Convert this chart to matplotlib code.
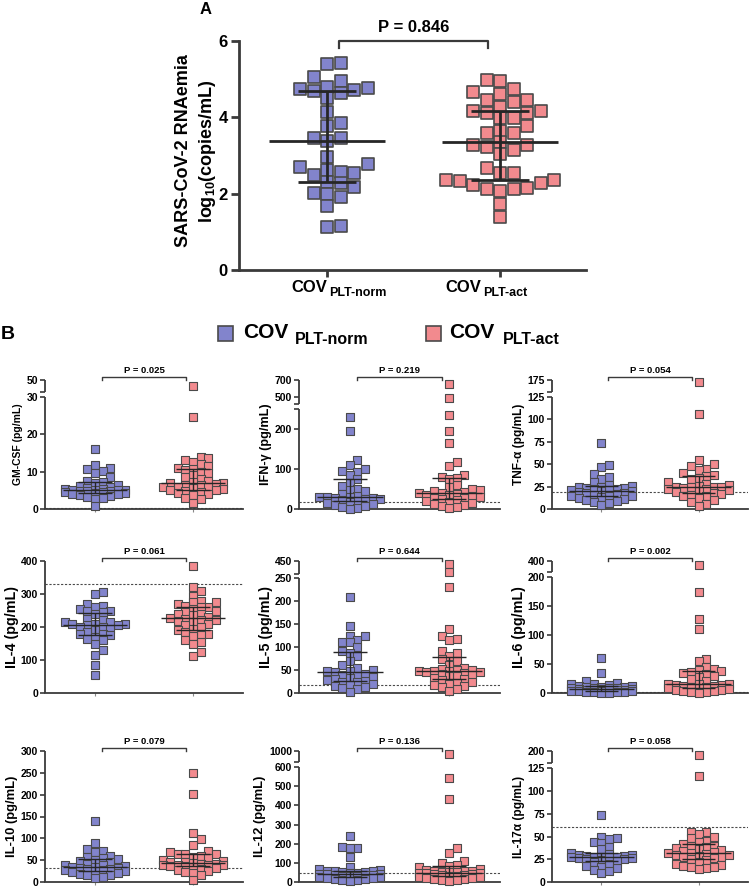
import numpy as np
import matplotlib
matplotlib.use('Agg')
import matplotlib.pyplot as plt
from matplotlib.lines import Line2D

plt.rcParams['font.family'] = ['Liberation Sans', 'DejaVu Sans']
plt.rcParams['font.weight'] = 'bold'
plt.rcParams['mathtext.fontset'] = 'custom'
plt.rcParams['mathtext.bf'] = 'Liberation Sans:bold'
plt.rcParams['mathtext.rm'] = 'Liberation Sans:bold'

BLUE = '#8284cc'
PINK = '#f28a8e'
EDGE = '#4a4a4a'
AXC = '#3a3a3a'

group_subs = ['PLT-norm', 'PLT-act']

# panel A: SARS-CoV-2 RNAemia, log10 copies/mL
rna_norm = [5.43, 5.41, 5.06, 4.95, 4.8, 4.78, 4.75, 4.71, 4.69, 4.65, 4.51, 4.14, 3.85,
            3.77, 3.46, 3.46, 3.37, 2.97, 2.77, 2.70, 2.62, 2.57, 2.53, 2.49, 2.3, 2.28,
            2.18, 2.03, 2.0, 1.92, 1.67, 1.16, 1.13]
rna_act = [4.97, 4.95, 4.75, 4.67, 4.6, 4.45, 4.45, 4.4, 4.27, 4.16, 4.16, 4.12, 4.12,
           3.97, 3.97, 3.77, 3.65, 3.6, 3.58, 3.36, 3.27, 3.27, 3.23, 3.14, 3.03, 2.66,
           2.53, 2.53, 2.35, 2.35, 2.33, 2.28, 2.24, 2.15, 2.12, 2.11, 2.08, 1.73, 1.40]
p_rna = 'P = 0.846'

# panel B: cytokines (pg/mL)
cytokines = ['GM-CSF', 'IFN-γ', 'TNF-α', 'IL-4', 'IL-5', 'IL-6', 'IL-10', 'IL-12', 'IL-17α']
p_values = ['P = 0.025', 'P = 0.219', 'P = 0.054', 'P = 0.061', 'P = 0.644',
            'P = 0.002', 'P = 0.079', 'P = 0.136', 'P = 0.058']
detect_limit = [0.2, 18, 19, 330, 17, 1, 33, 47, 60]
lower_ticks = [[0, 10, 20, 30], [0, 100, 200], [0, 25, 50, 75, 100, 125],
               [0, 100, 200, 300, 400], [0, 50, 100, 150, 200, 250],
               [0, 50, 100, 150, 200], [0, 50, 100, 150, 200, 250, 300],
               [0, 100, 200, 300, 400, 500, 600], [0, 25, 50, 75, 100, 125]]
upper_ticks = [[50], [500, 700], [175], [], [450], [400], [], [1000], [200]]
# (top of lower segment, bottom of upper segment) for broken axes
breaks = [(30, 40), (250, 420), (125, 150), None, (250, 350), (200, 300), None,
          (600, 800), (125, 150)]

norm_vals = [
    [16, 11.8, 11, 10.7, 10.2, 9.5, 8.5, 7.5, 7.2, 7, 6.5, 6.2, 6, 5.6, 5.4, 5.3, 5.2, 5.1,
     5, 5, 4.9, 4.8, 4.7, 4.6, 4.5, 4.3, 4.2, 4, 3.9, 3.7, 3.5, 3.2, 3, 2.6, 0.8],
    [230, 195, 123, 110, 100, 96, 92, 85, 75, 65, 57, 50, 47, 45, 38, 33, 30, 30, 29, 28,
     27, 25, 24, 22, 20, 18, 15, 12, 10, 8, 5, 3, 1],
    [73, 49, 47, 39, 36, 33, 30, 27, 26, 25, 24, 23, 23, 22, 22, 21, 21, 20, 20, 19, 18,
     18, 17, 16, 15, 15, 14, 13, 12, 11, 10, 9, 8, 7, 5],
    [305, 300, 270, 265, 260, 255, 250, 250, 245, 240, 225, 220, 215, 215, 210, 210, 208,
     205, 205, 200, 200, 195, 190, 185, 180, 178, 175, 170, 165, 160, 150, 130, 115, 85, 55],
    [210, 145, 125, 125, 115, 112, 110, 100, 92, 88, 80, 70, 60, 55, 50, 48, 48, 45, 42,
     40, 38, 35, 33, 30, 28, 27, 25, 23, 20, 18, 15, 12, 10, 8, 3],
    [60, 35, 20, 18, 16, 15, 14, 12, 12, 11, 10, 10, 9, 9, 8, 8, 7, 7, 7, 6, 6, 5, 5, 5,
     4, 4, 3, 3, 2, 2, 1, 1, 0.5, 0],
    [140, 90, 75, 70, 68, 60, 58, 55, 52, 50, 48, 45, 42, 40, 38, 36, 35, 35, 33, 32, 30,
     30, 28, 27, 25, 25, 22, 20, 18, 17, 15, 12, 10],
    [240, 185, 180, 175, 130, 80, 70, 65, 60, 55, 55, 50, 50, 48, 45, 42, 40, 40, 38, 35,
     35, 33, 30, 30, 28, 25, 22, 20, 18, 15, 12, 10, 5],
    [74, 50, 48, 47, 44, 43, 38, 36, 32, 31, 30, 30, 29, 29, 28, 28, 28, 27, 27, 26, 26,
     25, 25, 24, 23, 22, 20, 18, 17, 15, 13, 12, 10],
]
act_vals = [
    [45, 24.5, 14, 13.5, 13, 12.5, 12, 11.5, 11, 10.8, 10.5, 10, 9.5, 9, 8.5, 8, 7.5, 7.2,
     7, 7, 6.8, 6.5, 6.3, 6, 6, 5.8, 5.5, 5.3, 5, 5, 4.8, 4.5, 4.2, 4, 3.8, 3, 2.8, 1.7],
    [650, 495, 235, 195, 165, 118, 108, 85, 80, 78, 75, 60, 55, 50, 47, 45, 42, 40, 40, 38,
     36, 35, 33, 30, 28, 27, 25, 22, 20, 18, 15, 12, 10, 8, 5, 2],
    [170, 106, 55, 50, 48, 45, 43, 40, 38, 37, 35, 33, 30, 28, 27, 26, 25, 25, 24, 24, 23,
     22, 22, 21, 20, 19, 18, 17, 16, 15, 14, 12, 10, 8, 6, 3],
    [385, 322, 310, 295, 280, 275, 275, 270, 265, 262, 260, 255, 248, 245, 240, 238, 235,
     230, 228, 225, 222, 220, 218, 215, 210, 205, 200, 195, 190, 185, 178, 175, 172, 160,
     155, 150, 125, 112],
    [430, 365, 230, 140, 125, 118, 115, 92, 88, 80, 75, 70, 62, 55, 52, 50, 50, 48, 48, 47,
     46, 45, 44, 42, 40, 38, 36, 33, 30, 28, 25, 22, 20, 18, 15, 12, 8, 5],
    [365, 175, 128, 110, 58, 55, 45, 42, 40, 38, 37, 35, 33, 30, 28, 25, 20, 16, 15, 15,
     14, 13, 12, 12, 11, 10, 9, 8, 7, 6, 5, 4, 3, 2, 1, 0.5],
    [250, 202, 112, 98, 85, 70, 68, 65, 65, 63, 60, 58, 55, 50, 48, 45, 45, 43, 42, 42, 40,
     40, 38, 38, 37, 36, 35, 33, 30, 28, 25, 22, 20, 15, 5],
    [950, 545, 435, 180, 150, 110, 100, 90, 85, 80, 70, 65, 60, 58, 55, 52, 50, 50, 48, 47,
     45, 43, 40, 38, 35, 33, 30, 28, 25, 22, 20, 18, 15, 12, 8, 5],
    [183, 116, 55, 55, 53, 50, 48, 45, 44, 42, 40, 40, 38, 37, 36, 35, 34, 33, 32, 32, 31,
     30, 30, 29, 28, 27, 26, 25, 24, 22, 20, 19, 18, 17, 16, 15, 14],
]

# layout (pixels of the 750x890 figure)
W, H = 750, 890
break_frac = [(0.871, 0.91), (0.773, 0.812), (0.870, 0.909), None, (0.87, 0.90),
              (0.877, 0.913), None, (0.877, 0.915), (0.868, 0.908)]
cols = [(45, 243), (299, 500), (552, 748)]
rows = [(380, 509), (561, 693), (751, 882)]

fig = plt.figure(figsize=(W / 100, H / 100), dpi=100)


def add_ax(x0, x1, y0, y1):
    return fig.add_axes([x0 / W, 1 - y1 / H, (x1 - x0) / W, (y1 - y0) / H])


def swarm(ax, center, vals, step, ythr, kmax):
    # column scatter: put each point in the nearest free column, at most kmax columns out
    vals = np.asarray(vals, float)
    pts = ax.transData.transform(np.column_stack([np.full(len(vals), center), vals]))
    ys = pts[:, 1]
    ppu = ax.transData.transform((center + 1, 1))[0] - ax.transData.transform((center, 1))[0]
    cands = [0]
    for k in range(1, kmax + 1):
        cands += [k, -k]
    off = np.zeros(len(vals))
    placed = []
    for i in np.argsort(ys):
        best, best_gap = 0, -1
        for c in cands:
            dx = c * step
            gaps = [abs(ys[i] - b) for a, b in placed if abs(dx - a) < step * 0.99]
            gap = min(gaps) if gaps else 1e9
            if gap >= ythr:
                best = dx
                break
            if gap > best_gap:
                best, best_gap = dx, gap
        off[i] = best
        placed.append((best, ys[i]))
    return center + off / ppu


def median_iqr(ax, center, vals, half, cap, lw):
    q1, med, q3 = np.percentile(vals, [25, 50, 75])
    kw = dict(color='#262626', lw=lw, zorder=5, solid_capstyle='butt')
    ax.plot([center - half, center + half], [med, med], **kw)
    ax.plot([center, center], [q1, q3], **kw)
    ax.plot([center - cap, center + cap], [q1, q1], **kw)
    ax.plot([center - cap, center + cap], [q3, q3], **kw)


def bracket(ax, y0, drop, text, fs, ty, lw):
    tr = ax.get_xaxis_transform()
    ax.plot([0.07, 0.07, 0.93, 0.93], [y0 - drop, y0, y0, y0 - drop], transform=tr,
            color=AXC, lw=lw, clip_on=False)
    ax.text(0.5, ty, text, transform=tr, ha='center', va='center', fontsize=fs)


# ---------------- panel A ----------------
axA = add_ax(239, 586, 41, 270)
axA.set_xlim(-0.509, 1.497)
axA.set_ylim(0, 6)
for s in ['top', 'right']:
    axA.spines[s].set_visible(False)
for s in ['left', 'bottom']:
    axA.spines[s].set_color(AXC)
    axA.spines[s].set_linewidth(2)
axA.set_yticks([0, 2, 4, 6])
axA.set_xticks([0, 1])
axA.set_xticklabels(['', ''])
axA.tick_params(axis='y', length=6, width=2, color=AXC, labelsize=12, pad=2)
axA.tick_params(axis='x', length=5, width=2, color=AXC)

for i, (vals, col) in enumerate([(rna_norm, BLUE), (rna_act, PINK)]):
    xs = swarm(axA, i, vals, 13.5, 11, 4)
    axA.scatter(xs, vals, s=9.2 ** 2, marker='s', facecolor=col, edgecolor=EDGE,
                linewidths=1.2, zorder=3, clip_on=False)
    median_iqr(axA, i, vals, 0.335, 0.17, 2)

bracket(axA, 1.0, 0.03, p_rna, 12, 1.06, 1.6)

xlab_shift = [0, -19]
for i, sub in enumerate(group_subs):
    axA.annotate('COV', xy=(i, 0), xycoords=axA.get_xaxis_transform(),
                 xytext=(xlab_shift[i] * 0.72, -17 * 0.72), textcoords='offset points',
                 ha='right', va='center', fontsize=12)
    axA.annotate(sub, xy=(i, 0), xycoords=axA.get_xaxis_transform(),
                 xytext=((xlab_shift[i] + 2) * 0.72, -23 * 0.72), textcoords='offset points',
                 ha='left', va='center', fontsize=9)

fig.text(183 / W, 1 - 151 / H, 'SARS-CoV-2 RNAemia', rotation=90, ha='center',
         va='center', fontsize=13)
fig.text(207 / W, 1 - 151 / H, r'log$_{\mathbf{10}}$(copies/mL)', rotation=90,
         ha='center', va='center', fontsize=13)
fig.text(206 / W, 1 - 10 / H, 'A', ha='center', va='center', fontsize=12)

# ---------------- legend / B ----------------
fig.text(1 / W, 1 - 335 / H, 'B', ha='left', va='center', fontsize=14)
leg = [(225, 243, 295, BLUE, group_subs[0]), (433, 449, 503, PINK, group_subs[1])]
for sx, tx, ux, col, sub in leg:
    fig.add_artist(Line2D([sx / W], [1 - 333 / H], marker='s', markersize=10.8,
                          markerfacecolor=col, markeredgecolor=EDGE, markeredgewidth=1.2,
                          transform=fig.transFigure))
    fig.text(tx / W, 1 - 332 / H, 'COV', ha='left', va='center', fontsize=15)
    fig.text(ux / W, 1 - 340 / H, sub, ha='left', va='center', fontsize=11.5)

# ---------------- cytokine panels ----------------
renderer = fig.canvas.get_renderer()
for n, name in enumerate(cytokines):
    r, c = divmod(n, 3)
    ax = add_ax(cols[c][0], cols[c][1], rows[r][0], rows[r][1])
    top = (upper_ticks[n] or lower_ticks[n])[-1]
    ax.set_xlim(-0.51, 1.51)
    for s in ['top', 'right', 'left']:
        ax.spines[s].set_visible(False)
    ax.spines['bottom'].set_color(AXC)
    ax.spines['bottom'].set_linewidth(1.3)
    ytr = ax.get_yaxis_transform()
    seg = dict(transform=ytr, color=AXC, lw=1.3, clip_on=False, solid_capstyle='butt')
    minor = []
    if breaks[n] is None:
        ax.set_ylim(0, top)
        ax.plot([0, 0], [0, top], **seg)
    else:
        L, U0 = breaks[n]
        f1, f2 = break_frac[n]
        s_lo = f1 / L
        s_hi = (1 - f2) / (top - U0)
        xp = np.array([-top, 0, L, U0, top, 3 * top], float)
        fp = np.array([-top * s_lo, 0, f1, f2, 1, 1 + 2 * top * s_hi])
        ax.set_yscale('function', functions=(lambda v, xp=xp, fp=fp: np.interp(v, xp, fp),
                                             lambda f, xp=xp, fp=fp: np.interp(f, fp, xp)))
        ax.set_ylim(0, top)
        ax.plot([0, 0], [0, L], **seg)
        ax.plot([0, 0], [U0, top], **seg)
        minor = [U0] + ([] if L in lower_ticks[n] else [L])
    ax.set_yticks(lower_ticks[n] + upper_ticks[n])
    ax.set_yticklabels([str(t) for t in lower_ticks[n] + upper_ticks[n]])
    ax.set_yticks(minor, minor=True)
    ax.tick_params(axis='y', which='both', length=3.5, width=1.2, color=AXC,
                   labelsize=7.5, pad=1.5)
    ax.set_xticks([0, 1])
    ax.set_xticklabels(['', ''])
    ax.tick_params(axis='x', length=2.5, width=0.8, color='#888888')

    ax.axhline(detect_limit[n], color='#4a4a4a', lw=0.8, ls=(0, (2, 1.5)), zorder=1)

    for i, (vals, col) in enumerate([(norm_vals[n], BLUE), (act_vals[n], PINK)]):
        xs = swarm(ax, i, vals, 7.6, 6.3, 4)
        ax.scatter(xs, vals, s=5.6 ** 2, marker='s', facecolor=col, edgecolor=EDGE,
                   linewidths=0.8, zorder=3, clip_on=False)
        median_iqr(ax, i, vals, 0.33, 0.17, 1.0)

    hpx = rows[r][1] - rows[r][0]
    bracket(ax, 1 + 3 / hpx, 3 / hpx, p_values[n], 6.8, 1 + 10 / hpx, 1.0)

    # y label, placed left of the tick labels and scaled to a common length
    fig.canvas.draw()
    x_left = min(t.get_window_extent(renderer).x0 for t in ax.get_yticklabels())
    a0 = ax.transAxes.transform((0, 0))[0]
    a1 = ax.transAxes.transform((1, 0))[0]
    lab = ax.text((x_left - 9 - a0) / (a1 - a0), 0.5, name + ' (pg/mL)',
                  transform=ax.transAxes, rotation=90, ha='center', va='center', fontsize=9)
    hgt = lab.get_window_extent(renderer).height
    lab.set_fontsize(9 * 82 / hgt)

fig.savefig('out.png', dpi=100)
